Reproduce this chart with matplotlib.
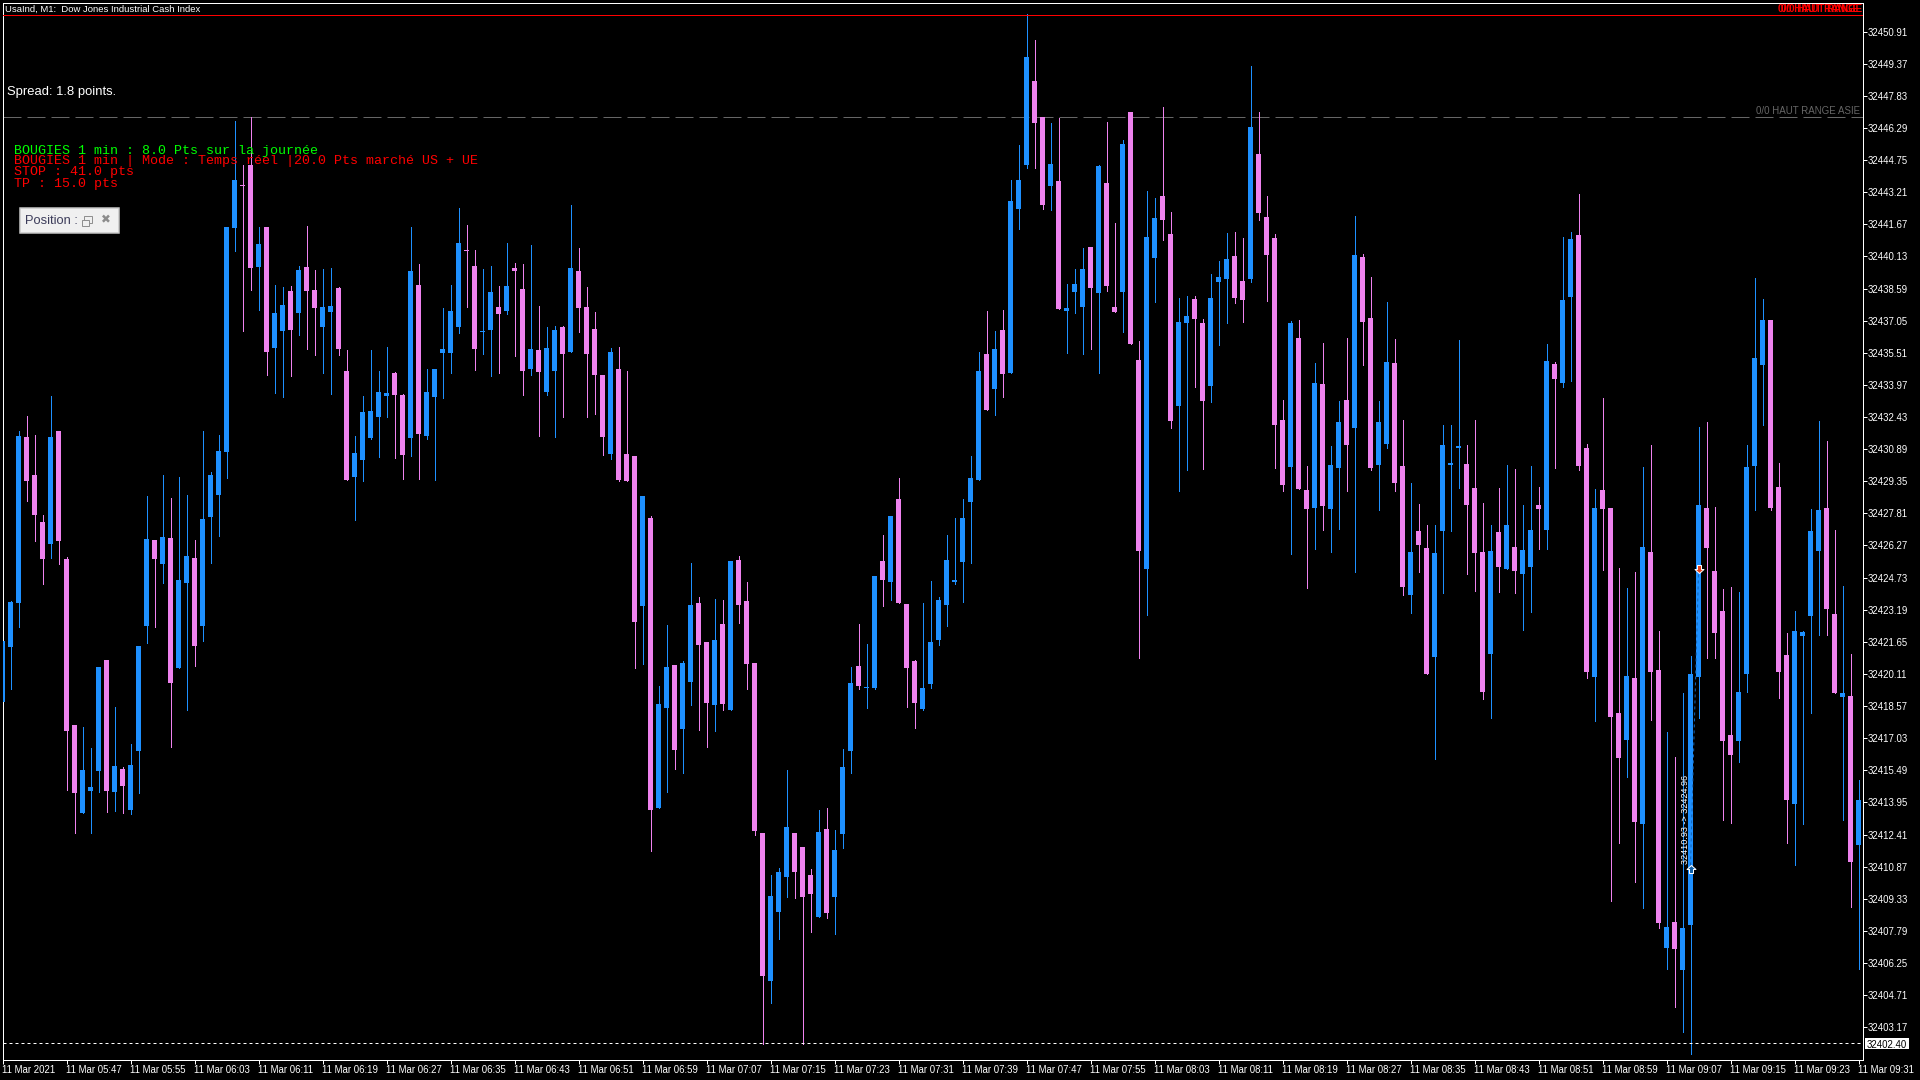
import numpy as np
import matplotlib
matplotlib.use("Agg")
import matplotlib.pyplot as plt
from matplotlib.patches import Rectangle
from matplotlib.path import Path

plt.rcParams['font.family'] = ['Liberation Sans', 'DejaVu Sans']

# M1 candles, prices
opens = [32418.78,32421.40,32423.51,32431.47,32429.65,32427.39,32426.34,32431.76,
32425.62,32417.66,32413.43,32414.49,32415.45,32420.77,32414.44,32415.54,
32413.58,32416.41,32422.40,32426.53,32425.38,32426.63,32420.39,32424.47,
32425.67,32422.40,32427.63,32428.69,32430.75,32441.49,32443.56,32444.52,
32439.62,32441.54,32435.74,32436.55,32438.47,32437.42,32439.62,32438.52,
32436.74,32437.46,32438.62,32434.63,32429.55,32430.36,32431.42,32432.43,
32433.43,32434.54,32433.48,32431.42,32438.76,32431.52,32433.39,32435.50,
32435.50,32436.74,32440.44,32439.67,32436.52,32436.60,32437.70,32437.51,
32439.58,32438.57,32434.73,32435.64,32433.63,32434.63,32436.74,32435.55,
32439.43,32437.70,32436.65,32434.44,32430.65,32434.73,32430.66,32430.56,
32423.36,32427.60,32413.68,32418.47,32420.54,32417.46,32419.72,32423.51,
32421.64,32418.62,32422.50,32418.38,32425.58,32423.60,32420.64,32412.48,
32405.37,32408.69,32410.37,32412.48,32411.81,32410.47,32408.45,32412.67,
32409.40,32412.43,32416.42,32420.49,32419.44,32419.44,32425.53,32424.52,
32428.49,32423.45,32420.73,32418.43,32419.63,32421.74,32423.42,32424.52,
32425.48,32428.36,32429.42,32435.45,32433.76,32436.60,32434.55,32442.40,
32444.51,32448.54,32446.82,32443.51,32443.75,32437.52,32438.42,32437.70,
32440.58,32438.38,32443.65,32437.70,32438.42,32447.06,32435.17,32425.13,
32440.05,32443.02,32441.20,32432.96,32436.94,32438.09,32436.94,32433.92,
32438.91,32439.05,32440.15,32438.95,32439.05,32445.04,32442.02,32441.01,
32432.30,32430.04,32436.22,32428.93,32428.07,32434.02,32428.02,32429.98,
32433.25,32431.91,32440.11,32437.17,32430.13,32431.14,32435.03,32430.09,
32423.89,32426.97,32426.15,32420.92,32426.97,32430.13,32430.95,32430.18,
32429.03,32425.96,32421.06,32426.92,32425.14,32426.20,32424.90,32425.25,
32428.22,32427.01,32434.97,32434.06,32438.18,32441.16,32430.95,32419.96,
32428.92,32428.07,32418.23,32416.93,32419.92,32412.92,32425.96,32420.29,
32406.97,32408.20,32405.90,32408.08,32419.97,32428.07,32425.03,32423.12,
32417.18,32416.88,32420.11,32430.07,32434.92,32437.07,32429.07,32421.02,
32413.87,32421.93,32422.88,32426.01,32428.07,32422.98,32418.99,32419.04,
32411.89]
closes = [32421.69,32423.56,32431.52,32429.36,32427.73,32425.62,32431.47,32426.48,
32417.37,32414.40,32415.50,32414.68,32420.44,32414.49,32415.69,32414.73,
32415.74,32421.44,32426.58,32425.62,32426.67,32419.67,32424.61,32425.76,
32421.44,32427.54,32429.65,32430.80,32441.54,32443.80,32443.51,32439.58,
32440.73,32435.55,32437.42,32437.80,32436.60,32439.48,32438.47,32437.66,
32437.70,32437.75,32435.69,32429.41,32430.70,32432.67,32432.72,32433.63,
32433.58,32433.48,32430.60,32439.43,32431.61,32433.63,32434.73,32435.69,
32437.51,32440.77,32440.39,32435.69,32436.55,32438.42,32437.37,32438.71,
32439.43,32434.63,32435.69,32434.59,32435.74,32436.60,32435.45,32439.58,
32437.66,32435.45,32434.44,32431.47,32435.55,32429.41,32429.37,32422.59,
32428.64,32413.58,32418.66,32420.43,32416.46,32420.64,32423.42,32421.49,
32418.71,32421.74,32418.66,32425.53,32423.42,32420.58,32412.58,32405.61,
32409.46,32410.61,32412.76,32410.61,32409.40,32409.55,32412.52,32408.64,
32411.66,32415.63,32419.67,32419.54,32419.48,32424.80,32424.61,32427.69,
32423.51,32420.39,32418.71,32419.44,32421.64,32423.66,32425.58,32424.61,
32427.58,32429.50,32434.64,32432.77,32435.68,32434.49,32442.79,32443.81,
32449.70,32446.53,32442.59,32444.57,32437.60,32437.66,32438.81,32439.52,
32438.62,32444.47,32438.72,32437.46,32445.53,32435.94,32426.01,32441.07,
32441.97,32441.89,32432.24,32436.99,32437.27,32437.13,32433.20,32438.13,
32439.15,32440.01,32438.13,32438.05,32446.33,32442.22,32440.20,32432.04,
32429.16,32436.94,32428.97,32428.02,32434.06,32428.16,32430.13,32432.20,
32431.08,32440.20,32436.99,32429.98,32432.20,32435.06,32429.27,32424.27,
32425.96,32426.29,32420.11,32425.91,32431.08,32430.22,32431.05,32428.22,
32425.91,32419.25,32426.00,32425.25,32427.25,32425.04,32426.05,32427.01,
32428.02,32435.12,32434.26,32438.04,32440.97,32430.09,32420.20,32428.07,
32428.02,32418.03,32416.08,32420.02,32412.99,32426.18,32420.19,32408.17,
32407.98,32406.92,32407.93,32420.11,32428.21,32426.16,32422.07,32416.88,
32416.22,32419.23,32430.03,32435.26,32437.07,32428.07,32420.19,32414.07,
32422.17,32422.12,32426.97,32427.97,32423.22,32419.18,32419.18,32411.09,
32414.07]
highs = [32421.69,32423.60,32431.76,32432.48,32431.57,32427.73,32433.44,32431.76,
32425.71,32417.66,32417.56,32416.55,32420.44,32420.77,32418.52,32415.64,
32416.74,32421.44,32428.64,32426.53,32429.65,32428.54,32429.55,32428.69,
32426.53,32431.76,32429.79,32431.57,32441.54,32446.63,32444.52,32446.80,
32441.54,32441.54,32438.76,32438.66,32438.71,32439.67,32441.59,32439.48,
32439.53,32439.58,32438.66,32435.64,32431.52,32433.43,32435.64,32434.63,
32435.79,32434.59,32433.53,32441.54,32439.77,32434.73,32434.73,32437.66,
32438.76,32442.45,32441.64,32440.44,32439.53,32439.67,32438.71,32440.77,
32439.82,32439.77,32440.68,32437.75,32436.74,32436.79,32436.79,32442.60,
32440.53,32438.66,32437.46,32434.44,32435.74,32435.79,32434.63,32430.56,
32428.64,32427.69,32419.54,32422.45,32420.54,32420.73,32425.43,32423.79,
32421.64,32423.70,32423.66,32425.53,32425.77,32424.52,32420.64,32412.48,
32410.47,32410.80,32415.50,32412.48,32411.81,32410.75,32413.58,32413.68,
32412.63,32416.51,32420.43,32422.50,32421.55,32424.80,32426.78,32427.69,
32429.50,32423.45,32420.77,32423.51,32424.57,32423.79,32426.78,32427.60,
32428.50,32430.55,32435.54,32437.52,32436.56,32437.56,32443.81,32445.47,
32451.75,32450.52,32446.82,32446.53,32446.78,32438.81,32439.52,32440.54,
32440.58,32444.53,32446.59,32441.73,32445.72,32447.06,32436.07,32443.28,
32442.93,32447.29,32442.26,32438.13,32438.23,32438.23,32437.13,32439.28,
32439.91,32441.26,32441.30,32441.01,32449.27,32447.06,32443.02,32441.20,
32433.25,32437.05,32437.08,32430.09,32435.03,32435.98,32431.05,32433.19,
32436.22,32442.07,32440.26,32439.16,32433.19,32437.95,32436.17,32432.29,
32429.27,32428.26,32427.25,32427.25,32432.05,32432.05,32436.13,32431.08,
32432.29,32428.31,32427.25,32429.03,32430.13,32429.94,32428.22,32430.09,
32429.08,32435.93,32435.06,32441.07,32441.30,32443.12,32431.14,32428.97,
32433.35,32428.07,32425.18,32424.23,32424.98,32430.03,32431.08,32422.17,
32417.33,32416.13,32419.18,32420.97,32431.96,32432.18,32428.12,32424.18,
32424.27,32424.03,32431.08,32439.10,32438.10,32437.07,32430.22,32422.07,
32423.12,32422.17,32428.02,32432.23,32431.27,32427.02,32424.32,32421.07,
32415.02]
lows = [32418.78,32419.38,32422.36,32428.40,32426.48,32424.42,32425.67,32425.38,
32414.54,32412.47,32413.43,32412.47,32414.44,32413.48,32413.53,32413.43,
32413.39,32414.40,32421.59,32422.36,32424.47,32416.60,32420.39,32418.37,
32420.48,32421.69,32425.43,32426.72,32429.50,32440.39,32436.55,32438.52,
32437.56,32434.44,32433.58,32433.39,32434.39,32436.36,32435.69,32435.40,
32434.54,32433.53,32435.40,32429.41,32427.49,32429.36,32431.37,32430.51,
32432.43,32430.46,32429.45,32430.56,32429.45,32431.37,32429.41,32433.34,
32434.54,32436.46,32437.70,32434.68,32435.45,32434.39,32434.54,32437.37,
32435.35,32433.48,32434.44,32431.52,32433.48,32431.47,32432.43,32435.55,
32436.50,32432.43,32432.57,32430.60,32430.41,32429.36,32429.37,32420.41,
32420.58,32411.62,32413.68,32414.44,32415.54,32415.37,32418.62,32417.43,
32416.61,32417.37,32418.38,32418.38,32422.56,32419.39,32412.39,32402.37,
32404.33,32407.39,32409.40,32409.37,32402.37,32407.72,32408.45,32408.39,
32407.63,32411.75,32415.35,32419.39,32418.47,32419.39,32423.36,32423.66,
32423.51,32418.53,32417.52,32418.38,32419.44,32421.49,32422.41,32424.42,
32423.56,32425.42,32429.42,32432.77,32432.53,32433.39,32434.55,32441.44,
32444.37,32444.37,32442.40,32442.36,32437.60,32435.51,32437.42,32435.45,
32435.68,32434.55,32438.48,32437.46,32436.50,32435.94,32420.88,32422.94,
32437.95,32440.93,32431.90,32428.89,32429.89,32433.86,32429.93,32433.16,
32435.88,32436.94,32437.89,32436.99,32438.91,32441.89,32437.99,32429.99,
32428.89,32425.87,32428.97,32424.24,32426.11,32427.01,32425.96,32427.06,
32428.88,32425.01,32434.94,32429.89,32427.98,32430.95,32428.88,32423.89,
32423.03,32425.01,32420.11,32416.03,32424.00,32426.97,32429.03,32424.90,
32424.09,32418.91,32418.00,32424.03,32425.14,32424.00,32422.22,32423.08,
32426.11,32426.11,32429.98,32433.87,32434.17,32429.89,32419.92,32417.85,
32425.11,32409.23,32411.99,32415.17,32410.13,32408.88,32417.89,32407.95,
32405.95,32404.14,32402.94,32401.88,32417.99,32420.87,32420.87,32413.09,
32412.97,32415.88,32419.23,32427.97,32432.06,32427.97,32418.96,32411.99,
32410.94,32412.92,32418.23,32421.97,32421.97,32419.18,32413.09,32408.93,
32405.95]

price_ticks = [32450.91,32449.37,32447.83,32446.29,32444.75,32443.21,32441.67,32440.13,
32438.59,32437.05,32435.51,32433.97,32432.43,32430.89,32429.35,32427.81,
32426.27,32424.73,32423.19,32421.65,32420.11,32418.57,32417.03,32415.49,
32413.95,32412.41,32410.87,32409.33,32407.79,32406.25,32404.71,32403.17]
time_labels = ['11 Mar 2021','11 Mar 05:47','11 Mar 05:55','11 Mar 06:03','11 Mar 06:11','11 Mar 06:19',
'11 Mar 06:27','11 Mar 06:35','11 Mar 06:43','11 Mar 06:51','11 Mar 06:59','11 Mar 07:07',
'11 Mar 07:15','11 Mar 07:23','11 Mar 07:31','11 Mar 07:39','11 Mar 07:47','11 Mar 07:55',
'11 Mar 08:03','11 Mar 08:11','11 Mar 08:19','11 Mar 08:27','11 Mar 08:35','11 Mar 08:43',
'11 Mar 08:51','11 Mar 08:59','11 Mar 09:07','11 Mar 09:15','11 Mar 09:23','11 Mar 09:31']

range_high = 32451.73
asia_high = 32446.82
last_price = 32402.40
trade_bars = [211, 212]
trade_prices = [32410.93, 32424.96]

UP = '#1E90FF'
DOWN = '#EE82EE'
PX = 0.72  # one screen pixel in points at dpi 100

def fx(x):
    return x / 1920
def fy(y):
    return 1 - y / 1080

fig = plt.figure(figsize=(19.2, 10.8), dpi=100, facecolor='black')
ax = fig.add_axes([fx(2.5), fy(1059.5), fx(1860), 1057 / 1080])
ax.set_facecolor('black')
for s in ax.spines.values():
    s.set_color('white')
    s.set_linewidth(PX)

idx = np.arange(len(opens))
o = np.array(opens)
c = np.array(closes)
colors = [UP if c[i] >= o[i] else DOWN for i in idx]

ax.vlines(idx, lows, highs, colors=colors, linewidth=PX, antialiased=False, zorder=2)
ax.bar(idx, np.abs(c - o), bottom=np.minimum(o, c), width=0.625, color=colors,
       antialiased=False, linewidth=0, zorder=3)

ax.set_xlim(0, 232.5)
ax.set_ylim(32401.62, 32452.31)

ax.set_xticks(idx[::8])
ax.set_xticklabels(time_labels, ha='left')
ax.yaxis.tick_right()
ax.set_yticks(price_ticks)
ax.set_yticklabels(['%.2f' % p for p in price_ticks])
ax.tick_params(axis='x', colors='white', length=4 * PX, width=PX, pad=1.2, labelsize=6.9)
ax.tick_params(axis='y', colors='white', length=4 * PX, width=PX, pad=0.6, labelsize=6.9)
for lab in ax.get_yticklabels():
    lab.set_y(lab.get_position()[1])
    lab.set_verticalalignment('center_baseline')

# horizontal levels
ax.axhline(range_high, color='#ff0000', linewidth=PX, zorder=4)
ax.axhline(asia_high, color='#666666', linewidth=PX, linestyle=(0, (18, 6)), zorder=1)
ax.axhline(last_price, color='white', linewidth=PX, linestyle=(0, (3, 3)), zorder=4)

# trade
ax.plot(trade_bars, trade_prices, color='#1464b4', linewidth=PX, linestyle=(0, (3, 3)), zorder=5)
entry_arrow = Path([(0, 0), (4.5, -4), (2, -4), (2, -8), (-2, -8), (-2, -4), (-4.5, -4), (0, 0)], closed=True)
exit_arrow = Path([(0, 0), (4.5, 4), (2, 4), (2, 8), (-2, 8), (-2, 4), (-4.5, 4), (0, 0)], closed=True)
ax.plot(trade_bars[0], trade_prices[0], marker=entry_arrow, markersize=11.5, markerfacecolor='#0f5fa8',
        markeredgecolor='white', markeredgewidth=PX, zorder=6)
ax.plot(trade_bars[1], trade_prices[1], marker=exit_arrow, markersize=11.5, markerfacecolor='#e8401c',
        markeredgecolor='white', markeredgewidth=PX, zorder=6)
fig.text(fx(1686), fy(819), '32410.93 -> 32424.96', color='white', fontsize=6.6, rotation=90,
         ha='center', va='center', zorder=7)

# last price box
fig.patches.append(Rectangle((fx(1865), fy(1049)), 44 / 1920, 11 / 1080, transform=fig.transFigure,
                             facecolor='white', edgecolor='none', zorder=5))
fig.text(fx(1887), fy(1043.5), '32402.40', color='black', fontsize=6.9, ha='center', va='center_baseline', zorder=6)

# texts on the chart
fig.text(fx(5), fy(9.5), 'UsaInd, M1:  Dow Jones Industrial Cash Index', color='white', fontsize=6.8, va='center')
fig.text(fx(7), fy(92), 'Spread: 1.8 points.', color='white', fontsize=9.4, va='center')
mono = ['Liberation Mono', 'DejaVu Sans Mono']
fig.text(fx(14), fy(151), 'BOUGIES 1 min : 8.0 Pts sur la journée', color='#00ff00', fontsize=9.6, family=mono, va='center', zorder=7)
fig.text(fx(14), fy(161), 'BOUGIES 1 min | Mode : Temps réel |20.0 Pts marché US + UE', color='#ff0000', fontsize=9.6, family=mono, va='center', zorder=7)
fig.text(fx(14), fy(172.5), 'STOP : 41.0 pts', color='#ff0000', fontsize=9.6, family=mono, va='center', zorder=7)
fig.text(fx(14), fy(184), 'TP : 15.0 pts', color='#ff0000', fontsize=9.6, family=mono, va='center', zorder=7)

fig.text(fx(1862), fy(9), '0/0 HAUT RANGE', color='#ff0000', fontsize=7, fontweight='bold', ha='right', va='center')
fig.text(fx(1859), fy(9), '0/0 HAUT RANGE', color='#ff0000', fontsize=7, fontweight='bold', ha='right', va='center')
fig.text(fx(1860), fy(110.5), '0/0 HAUT RANGE ASIE', color='#666666', fontsize=7.0, ha='right', va='center')

# position window
fig.patches.append(Rectangle((fx(19.5), fy(232.5)), 99 / 1920, 25 / 1080, transform=fig.transFigure,
                             facecolor='#f0f0f0', edgecolor='#c8c8c8', linewidth=1.5 * PX, zorder=8))
fig.text(fx(25), fy(221), 'Position :', color='#3c3c5a', fontsize=9.3, va='center', zorder=9)
fig.patches.append(Rectangle((fx(84), fy(223)), 8 / 1920, 7 / 1080, transform=fig.transFigure,
                             facecolor='none', edgecolor='#909090', linewidth=PX, zorder=9))
fig.patches.append(Rectangle((fx(82), fy(226)), 7 / 1920, 6 / 1080, transform=fig.transFigure,
                             facecolor='#f0f0f0', edgecolor='#909090', linewidth=PX, zorder=10))
fig.text(fx(106), fy(220), '✖', color='#8c8c8c', fontsize=8.5, family='DejaVu Sans', ha='center', va='center', zorder=9)

fig.savefig('out.png', dpi=100, facecolor='black')
